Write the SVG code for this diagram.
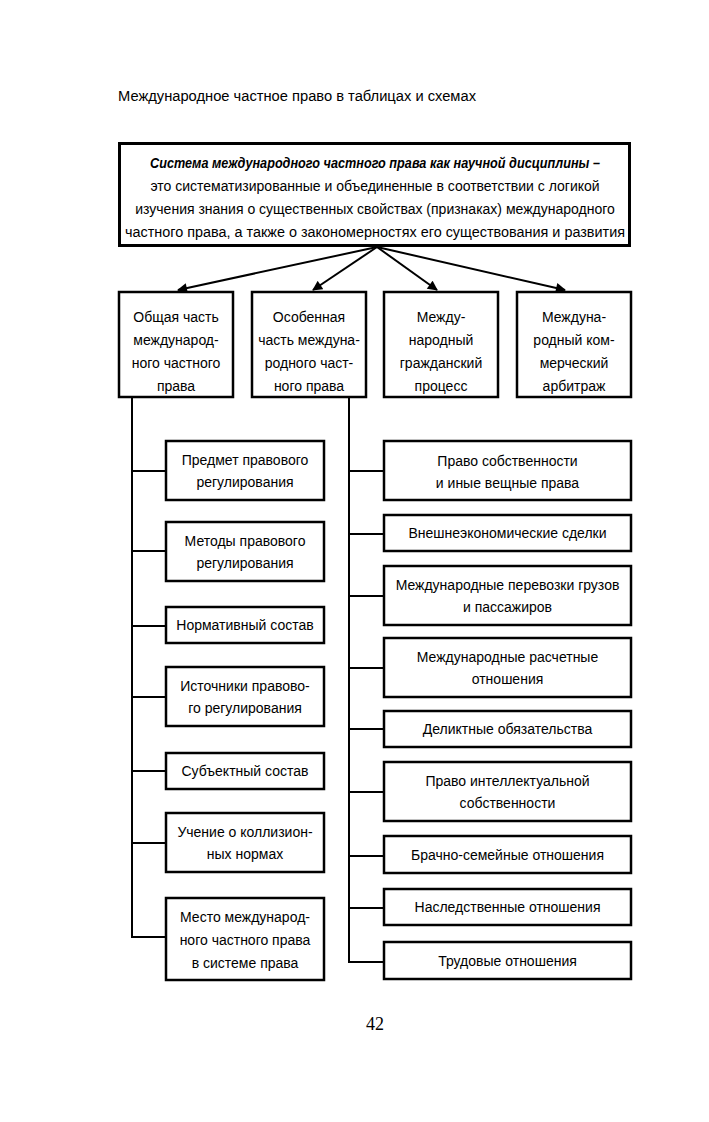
<svg xmlns="http://www.w3.org/2000/svg" width="709" height="1122" viewBox="0 0 709 1122">
<defs>
<style>
.bg{fill:#fff}
.box{fill:#fff;stroke:#000;stroke-width:2.5}
.tbox{fill:#fff;stroke:#000;stroke-width:3}
.t{font-family:"Liberation Sans","DejaVu Sans",sans-serif;font-size:14px;fill:#000;text-anchor:middle}
.tb{font-family:"Liberation Sans","DejaVu Sans",sans-serif;font-size:14px;fill:#000;text-anchor:middle;font-weight:bold;font-style:italic}
.hd{font-family:"Liberation Sans","DejaVu Sans",sans-serif;font-size:14px;fill:#000}
.pg{font-family:"Liberation Serif",serif;font-size:18px;fill:#000;text-anchor:middle}
.ln{fill:none;stroke:#000;stroke-width:2}
.ar{fill:none;stroke:#000;stroke-width:2;marker-end:url(#ah)}
</style>
<marker id="ah" viewBox="0 0 10 10" refX="9" refY="5" markerWidth="11" markerHeight="10" markerUnits="userSpaceOnUse" orient="auto">
<path d="M0,0 L10,5 L0,10 z" fill="#000"/>
</marker>
</defs>
<rect class="bg" x="0" y="0" width="709" height="1122"/>
<text class="hd" x="118" y="101" textLength="358" lengthAdjust="spacingAndGlyphs">Международное частное право в таблицах и схемах</text>

<g id="connectors">
<line class="ar" x1="377" y1="247" x2="178" y2="290"/>
<line class="ar" x1="377" y1="247" x2="313" y2="290"/>
<line class="ar" x1="377" y1="247" x2="437" y2="290"/>
<line class="ar" x1="377" y1="247" x2="565" y2="290"/>
<polyline class="ln" points="132,397 132,937 166,937"/>
<line class="ln" x1="132" y1="471" x2="166" y2="471"/>
<line class="ln" x1="132" y1="551" x2="166" y2="551"/>
<line class="ln" x1="132" y1="626" x2="166" y2="626"/>
<line class="ln" x1="132" y1="697" x2="166" y2="697"/>
<line class="ln" x1="132" y1="771" x2="166" y2="771"/>
<line class="ln" x1="132" y1="843" x2="166" y2="843"/>
<polyline class="ln" points="349,397 349,962 384,962"/>
<line class="ln" x1="349" y1="471" x2="384" y2="471"/>
<line class="ln" x1="349" y1="534" x2="384" y2="534"/>
<line class="ln" x1="349" y1="596" x2="384" y2="596"/>
<line class="ln" x1="349" y1="668" x2="384" y2="668"/>
<line class="ln" x1="349" y1="729" x2="384" y2="729"/>
<line class="ln" x1="349" y1="792" x2="384" y2="792"/>
<line class="ln" x1="349" y1="856" x2="384" y2="856"/>
<line class="ln" x1="349" y1="908" x2="384" y2="908"/>
</g>

<g id="root">
<rect class="tbox" x="119.5" y="143.5" width="510" height="102"/>
<text class="tb" x="375" y="168" textLength="450" lengthAdjust="spacingAndGlyphs">Система международного частного права как научной дисциплины –</text>
<text class="t" x="375" y="191">это систематизированные и объединенные в соответствии с логикой</text>
<text class="t" x="375" y="214">изучения знания о существенных свойствах (признаках) международного</text>
<text class="t" x="375" y="237" textLength="500" lengthAdjust="spacingAndGlyphs">частного права, а также о закономерностях его существования и развития</text>
</g>

<g id="general">
<rect class="box" x="119" y="292" width="114" height="105"/>
<text class="t" x="176" y="322">Общая часть</text>
<text class="t" x="176" y="345">международ-</text>
<text class="t" x="176" y="368">ного частного</text>
<text class="t" x="176" y="391">права</text>
</g>
<g id="special">
<rect class="box" x="252" y="292" width="114" height="105"/>
<text class="t" x="309" y="322">Особенная</text>
<text class="t" x="309" y="345">часть междуна-</text>
<text class="t" x="309" y="368">родного част-</text>
<text class="t" x="309" y="391">ного права</text>
</g>
<g id="civil-process">
<rect class="box" x="384" y="292" width="114" height="105"/>
<text class="t" x="441" y="322">Между-</text>
<text class="t" x="441" y="345">народный</text>
<text class="t" x="441" y="368">гражданский</text>
<text class="t" x="441" y="391">процесс</text>
</g>
<g id="arbitration">
<rect class="box" x="517" y="292" width="114" height="105"/>
<text class="t" x="574" y="322">Междуна-</text>
<text class="t" x="574" y="345">родный ком-</text>
<text class="t" x="574" y="368">мерческий</text>
<text class="t" x="574" y="391">арбитраж</text>
</g>

<g id="l1">
<rect class="box" x="166" y="441" width="158" height="59"/>
<text class="t" x="245" y="465">Предмет правового</text>
<text class="t" x="245" y="487">регулирования</text>
</g>
<g id="l2">
<rect class="box" x="166" y="522" width="158" height="59"/>
<text class="t" x="245" y="546">Методы правового</text>
<text class="t" x="245" y="568">регулирования</text>
</g>
<g id="l3">
<rect class="box" x="166" y="607" width="158" height="36"/>
<text class="t" x="245" y="630">Нормативный состав</text>
</g>
<g id="l4">
<rect class="box" x="166" y="667" width="158" height="59"/>
<text class="t" x="245" y="691">Источники правово-</text>
<text class="t" x="245" y="713">го регулирования</text>
</g>
<g id="l5">
<rect class="box" x="166" y="753" width="158" height="36"/>
<text class="t" x="245" y="776">Субъектный состав</text>
</g>
<g id="l6">
<rect class="box" x="166" y="813" width="158" height="59"/>
<text class="t" x="245" y="837">Учение о коллизион-</text>
<text class="t" x="245" y="859">ных нормах</text>
</g>
<g id="l7">
<rect class="box" x="166" y="898" width="158" height="82"/>
<text class="t" x="245" y="922">Место международ-</text>
<text class="t" x="245" y="945">ного частного права</text>
<text class="t" x="245" y="968">в системе права</text>
</g>

<g id="r1">
<rect class="box" x="384" y="441" width="247" height="59"/>
<text class="t" x="507.5" y="466">Право собственности</text>
<text class="t" x="507.5" y="488">и иные вещные права</text>
</g>
<g id="r2">
<rect class="box" x="384" y="515" width="247" height="36"/>
<text class="t" x="507.5" y="538">Внешнеэкономические сделки</text>
</g>
<g id="r3">
<rect class="box" x="384" y="566" width="247" height="59"/>
<text class="t" x="507.5" y="590">Международные перевозки грузов</text>
<text class="t" x="507.5" y="612">и пассажиров</text>
</g>
<g id="r4">
<rect class="box" x="384" y="638" width="247" height="59"/>
<text class="t" x="507.5" y="662">Международные расчетные</text>
<text class="t" x="507.5" y="684">отношения</text>
</g>
<g id="r5">
<rect class="box" x="384" y="711" width="247" height="36"/>
<text class="t" x="507.5" y="734">Деликтные обязательства</text>
</g>
<g id="r6">
<rect class="box" x="384" y="762" width="247" height="59"/>
<text class="t" x="507.5" y="786">Право интеллектуальной</text>
<text class="t" x="507.5" y="808">собственности</text>
</g>
<g id="r7">
<rect class="box" x="384" y="836" width="247" height="37"/>
<text class="t" x="507.5" y="860">Брачно-семейные отношения</text>
</g>
<g id="r8">
<rect class="box" x="384" y="889" width="247" height="36"/>
<text class="t" x="507.5" y="912">Наследственные отношения</text>
</g>
<g id="r9">
<rect class="box" x="384" y="942" width="247" height="37"/>
<text class="t" x="507.5" y="966">Трудовые отношения</text>
</g>

<text class="pg" x="375" y="1030">42</text>
</svg>
